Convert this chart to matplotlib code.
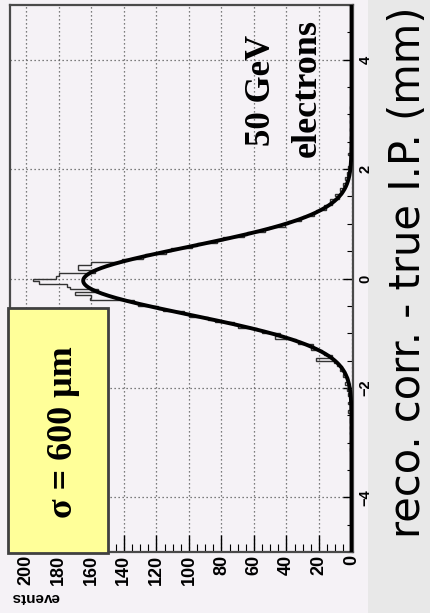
import numpy as np
import matplotlib
matplotlib.use("Agg")
import matplotlib.pyplot as plt
from matplotlib.ticker import MultipleLocator
from matplotlib.patches import Rectangle

# ---------------- data ----------------
# histogram: bin width 0.05 mm, first bin lower edge -3.2 mm
bin_lo = -3.2
bin_w = 0.05
counts_tail_lo = [0, 1, 0, 0, 1, 0, 0, 1, 0, 1, 0, 1, 1, 0, 1, 2,
                  1, 0, 2, 1, 1, 2, 1, 3,
                  2, 4, 3, 2, 5, 4, 7, 6]
counts_core = [9, 11, 22, 12, 17, 18, 25, 24, 33, 34, 47, 44, 55, 58, 70, 72,
               84, 88, 100, 103, 116, 119, 131, 134, 161, 160, 170, 156, 173, 175,
               192, 196, 182, 180, 158, 168, 168, 160, 141, 128, 127, 114, 111, 98,
               95, 83, 79, 66, 64, 53, 51, 41, 39, 31, 30, 23, 22, 16, 17, 12, 13,
               8, 10, 6, 7, 4, 5, 3, 4, 2, 3, 1, 2, 1, 1]
counts_tail_hi = [0, 1, 2, 0, 1, 0, 1, 0, 1, 0, 0, 1, 0, 0, 1, 0, 1, 0, 0, 1, 0]
counts = counts_tail_lo + counts_core + counts_tail_hi

# Gaussian fit parameters
fit_amp = 165.0
fit_mean = -0.04
fit_sigma = 0.62

x_ticks = [-4, -2, 0, 2, 4]
ev_ticks = [0, 20, 40, 60, 80, 100, 120, 140, 160, 180, 200]

# ---------------- figure ----------------
plt.rcParams['font.family'] = ['Liberation Sans', 'DejaVu Sans']
W, H = 431, 613
bg = '#F5F2F6'
fig = plt.figure(figsize=(W / 100, H / 100), dpi=100, facecolor=bg)

# grey strip on the right
fig.add_artist(Rectangle((368 / W, 0), (W - 368) / W, 1, transform=fig.transFigure,
                         facecolor='#E8E8E8', edgecolor='none', zorder=0))

ax = fig.add_axes([10 / W, 1 - 552 / H, 343 / W, 547 / H])
ax.set_facecolor(bg)
ax.set_xlim(210, -0.9)
ax.set_ylim(-5, 5)

edges = bin_lo + bin_w * np.arange(len(counts) + 1)
ax.stairs(counts, edges, orientation='horizontal', color='#333333', lw=1.0, zorder=3)

ypos = np.linspace(-5, 5, 1201)
curve = fit_amp * np.exp(-(ypos - fit_mean) ** 2 / (2 * fit_sigma ** 2))
ax.plot(curve, ypos, color='black', lw=2.8, zorder=4, solid_capstyle='butt')

# ticks
ax.set_xticks(ev_ticks)
ax.xaxis.set_minor_locator(MultipleLocator(5))
ax.set_yticks(x_ticks)
ax.yaxis.set_minor_locator(MultipleLocator(0.5))
ax.yaxis.tick_right()
ax.tick_params(axis='x', which='major', direction='in', length=12, width=1.0,
               labelsize=13, pad=2, labelrotation=90, colors='black')
ax.tick_params(axis='x', which='minor', direction='in', length=6, width=0.8)
ax.tick_params(axis='y', which='major', direction='in', length=7, width=1.0,
               labelsize=10.5, pad=4)
ax.tick_params(axis='y', which='minor', direction='in', length=4, width=0.8)
for t in ax.xaxis.get_major_ticks():
    t.label1.set_fontweight('bold')
for t in ax.yaxis.get_major_ticks():
    t.label2.set_rotation(90)
    t.label2.set_va('center')
    t.label2.set_ha('left')
    t.label2.set_fontweight('bold')

ax.grid(True, which='major', color='#555555', linestyle=(0, (1, 2.2)), lw=0.9)
ax.set_axisbelow(True)
for s in ax.spines.values():
    s.set_color('#4a4a4a')
    s.set_linewidth(1.6)

# labels
fig.text(35 / W, 1 - 597 / H, 'events', rotation=180, ha='center', va='center',
         fontsize=11, fontweight='bold')
fig.text(420 / W, 1 - 272 / H, 'reco. corr. - true I.P. (mm)', rotation=90,
         rotation_mode='anchor', ha='center', va='baseline', fontsize=30,
         family=['DejaVu Sans'])

# annotations
serif = ['Liberation Serif', 'DejaVu Serif']
fig.text(270 / W, 1 - 90 / H, '50 GeV', rotation=90, rotation_mode='anchor',
         ha='center', va='baseline', fontsize=25, fontweight='bold', family=serif)
fig.text(316 / W, 1 - 88 / H, 'electrons', rotation=90, rotation_mode='anchor',
         ha='center', va='baseline', fontsize=26, fontweight='bold', family=serif)

fig.add_artist(Rectangle((8 / W, 1 - 553 / H), 100 / W, 245 / H, transform=fig.transFigure,
                         facecolor='#FFFF99', edgecolor='#404040', lw=2, zorder=10))
fig.text(72 / W, 1 - 432 / H, 'σ = 600 μm', rotation=90, rotation_mode='anchor',
         ha='center', va='baseline', fontsize=26, fontweight='bold', family=serif, zorder=11)

fig.savefig('out.png', dpi=100, facecolor=bg)
